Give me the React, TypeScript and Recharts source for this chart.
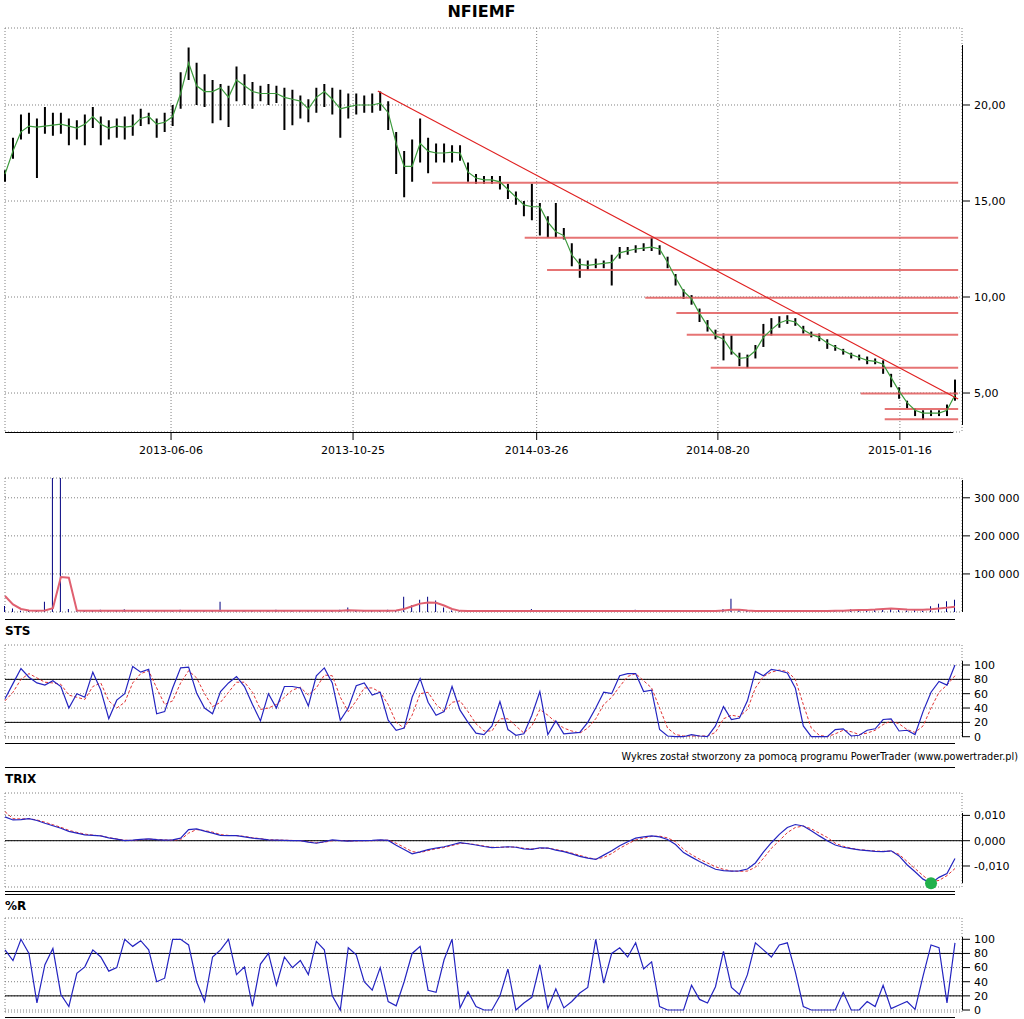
import { Bar, CartesianGrid, ComposedChart, Line, ReferenceDot, ReferenceLine, XAxis, YAxis } from 'recharts'

// time axis: one point per ~4 sessions, dates shown at fractional positions
const DATE_LABELS = ['2013-06-06', '2013-10-25', '2014-03-26', '2014-08-20', '2015-01-16']
const DATE_POS = [20.8, 43.6, 66.6, 89.3, 112.1]

const LOW = [
  16.0, 17.2, 18.2, 18.5, 16.2, 18.5, 18.4, 18.5, 17.9, 18.2,
  17.9, 18.8, 17.9, 18.2, 18.3, 18.2, 18.4, 18.9, 19.0, 18.3,
  18.6, 18.9, 19.8, 21.3, 20.0, 19.9, 19.05, 19.2, 18.85, 20.2,
  20.0, 19.8, 20.2, 20.0, 20.1, 18.7, 18.95, 19.3, 19.1, 19.6,
  19.9, 19.5, 18.3, 19.3, 19.5, 19.6, 19.6, 19.7, 18.7, 16.4,
  15.2, 16.0, 17.0, 16.45, 17.0, 17.0, 17.0, 17.1, 16.0, 15.9,
  15.9, 15.9, 15.6, 15.1, 14.8, 14.2, 14.0, 13.2, 13.1, 13.1,
  13.0, 11.6, 11.0, 11.4, 11.5, 11.5, 10.6, 12.0, 12.2, 12.3,
  12.4, 12.4, 12.2, 11.5, 10.6, 9.9, 9.6, 8.7, 8.2, 7.8,
  6.7, 7.0, 6.4, 6.3, 6.8, 7.4, 8.0, 8.4, 8.6, 8.5,
  8.1, 7.9, 7.7, 7.3, 7.2, 7.0, 6.8, 6.7, 6.5, 6.5,
  6.0, 5.3, 4.7, 4.2, 3.8, 3.6, 3.8, 3.8, 3.8, 4.6,
]
const HIGH = [
  16.6, 18.3, 19.5, 19.6, 19.3, 19.9, 19.6, 19.6, 19.3, 19.2,
  19.5, 19.9, 19.4, 19.2, 19.3, 19.4, 19.5, 19.8, 19.6, 19.3,
  19.6, 20.0, 21.7, 23.0, 22.2, 21.6, 21.3, 21.1, 21.0, 22.0,
  21.6, 21.2, 21.0, 21.1, 21.0, 20.9, 20.8, 20.5, 20.3, 20.9,
  21.1, 20.9, 20.8, 20.6, 20.6, 20.5, 20.6, 20.7, 20.2, 18.6,
  17.6, 18.2, 19.3, 18.3, 18.0, 18.0, 17.9, 17.9, 17.0, 16.4,
  16.3, 16.3, 16.3, 15.9, 15.5, 15.0, 15.9, 14.9, 14.2, 14.9,
  13.6, 12.8, 12.0, 11.9, 12.0, 11.9, 12.2, 12.6, 12.6, 12.7,
  12.8, 13.1, 12.7, 12.1, 11.2, 10.4, 10.1, 9.4, 8.8, 8.3,
  8.1, 8.0, 7.1, 7.0, 7.5, 8.6, 8.9, 9.0, 9.05, 8.9,
  8.5, 8.2, 8.1, 7.8, 7.5, 7.3, 7.1, 7.0, 6.9, 6.8,
  6.7, 6.0, 5.3, 4.6, 4.2, 4.1, 4.1, 4.1, 4.4, 5.7,
]
const MA = [
  16.4, 17.6, 18.6, 18.9, 18.85, 18.9, 18.95, 19.0, 18.9, 18.8,
  19.0, 19.4, 19.0, 18.8, 18.9, 18.85, 18.9, 19.3, 19.4, 19.0,
  19.1, 19.4, 20.6, 22.2, 21.0, 20.7, 20.7, 20.9, 20.4, 21.3,
  21.0, 20.7, 20.6, 20.6, 20.6, 20.4, 20.3, 20.2, 19.8, 20.4,
  20.7, 20.3, 19.8, 19.9, 20.0, 20.0, 20.0, 20.1, 19.6, 18.0,
  16.8, 16.8, 18.0, 17.6, 17.5, 17.5, 17.55, 17.5, 16.5, 16.2,
  16.1, 16.1, 16.0, 15.6, 15.2, 14.8, 14.7, 14.7, 13.9, 13.4,
  13.2, 12.2, 11.7, 11.65, 11.7, 11.75, 11.8, 12.3, 12.4, 12.5,
  12.55, 12.6, 12.5, 11.8, 11.0, 10.3, 9.9, 9.15, 8.5, 8.0,
  7.8, 7.2, 6.8, 6.85, 7.2, 7.9, 8.3, 8.65, 8.8, 8.7,
  8.3, 8.05, 7.9, 7.6, 7.4, 7.2, 7.0, 6.85, 6.7, 6.65,
  6.5, 5.8, 5.1, 4.5, 4.1, 3.95, 3.95, 3.95, 4.1, 4.9,
]

// drawn support levels and where they start on the time axis
const SUPPORT_LEVELS = [15.95, 13.08, 11.41, 9.96, 9.17, 8.03, 6.32, 4.98, 4.17, 3.64]
const SUPPORT_FROM = [53.5, 65.1, 67.9, 80.2, 84.1, 85.4, 88.4, 107.2, 110.2, 110.2]
const LINES_TO = 119.4
const TREND = [
  { x: 46.7, y: 20.73 },
  { x: 119.4, y: 4.69 },
]

const VOLUME = [
  16000, 9000, 3000, 4000, 3000, 27000, 420000, 420000, 8000, 2000,
  5000, 3000, 6000, 2000, 4000, 7000, 3000, 2000, 5000, 3000,
  2000, 4000, 6000, 3000, 2000, 3000, 5000, 27000, 4000, 2000,
  3000, 5000, 2000, 3000, 6000, 2000, 4000, 3000, 5000, 2000,
  3000, 4000, 6000, 12000, 3000, 2000, 4000, 3000, 6000, 5000,
  40000, 18000, 32000, 40000, 30000, 12000, 4000, 2000, 3000, 2000,
  4000, 3000, 2000, 3000, 2000, 5000, 8000, 3000, 2000, 4000,
  3000, 2000, 3000, 5000, 2000, 3000, 4000, 2000, 3000, 6000,
  4000, 2000, 3000, 5000, 3000, 2000, 4000, 3000, 2000, 5000,
  8000, 35000, 6000, 4000, 3000, 5000, 4000, 3000, 2000, 3000,
  2000, 4000, 3000, 2000, 3000, 5000, 7000, 4000, 4000, 6000,
  8000, 10000, 6000, 4000, 5000, 3000, 15000, 22000, 28000, 32000,
]
const VOLUME_MA = [
  42000, 20000, 8000, 4000, 3500, 4000, 10000, 92000, 90000, 4000,
  3000, 3000, 3000, 3000, 3000, 3000, 3000, 3000, 3000, 3000,
  3000, 3000, 3000, 3000, 3000, 3000, 3000, 3200, 3200, 3000,
  3000, 3000, 3000, 3000, 3000, 3000, 3000, 3000, 3000, 3000,
  3000, 3000, 3500, 4500, 4000, 3000, 3000, 3000, 3500, 4000,
  8000, 15000, 22000, 25000, 24000, 17000, 8000, 3000, 2500, 2500,
  2500, 2500, 2500, 2500, 2500, 2500, 2800, 2800, 2500, 2500,
  2500, 2500, 2500, 2500, 2500, 2500, 2500, 2500, 2500, 2500,
  2500, 2500, 2500, 2500, 2500, 2500, 2500, 2500, 2500, 2500,
  4000, 6000, 6000, 4000, 2500, 2500, 2500, 2500, 2500, 2500,
  2500, 2500, 2500, 2500, 3000, 3500, 4500, 5000, 5500, 6500,
  8000, 9000, 8000, 6500, 6000, 6000, 7500, 9500, 11500, 13500,
]

const STS_K = [
  53, 74, 95, 83, 75, 72, 78, 70, 40, 60,
  55, 90, 65, 25, 51, 60, 98, 90, 94, 32,
  35, 68, 96, 97, 61, 40, 32, 63, 75, 84,
  70, 45, 22, 60, 40, 70, 70, 68, 43, 85,
  96, 75, 23, 40, 71, 75, 58, 62, 23, 9,
  12, 55, 81, 48, 30, 35, 70, 37, 20, 5,
  3, 15, 49, 10, 2, 4, 30, 63, 3, 22,
  4, 5, 6, 20, 40, 62, 60, 85, 88, 88,
  63, 65, 10, 1, 0, 0, 3, 1, 0, 15,
  42, 24, 26, 50, 91, 85, 94, 92, 89, 68,
  15, 0, 0, 0, 10, 11, 1, 2, 9, 11,
  24, 25, 8, 9, 3, 35, 62, 77, 72, 100,
]
const STS_D = [
  50, 62, 80, 88, 82, 76, 75, 73, 58, 55,
  52, 70, 75, 50, 40, 48, 75, 88, 92, 68,
  45, 50, 75, 92, 82, 60, 42, 48, 62, 76,
  76, 62, 38, 40, 45, 55, 65, 69, 58, 68,
  86, 85, 55, 35, 50, 68, 68, 62, 45, 20,
  12, 30, 60, 62, 45, 35, 48, 50, 35, 18,
  8, 8, 25, 25, 15, 5, 15, 38, 30, 20,
  12, 8, 5, 12, 25, 45, 55, 70, 84, 88,
  78, 68, 40, 12, 3, 1, 1, 1, 1, 6,
  25, 30, 28, 38, 68, 84, 90, 93, 91, 80,
  45, 12, 2, 0, 4, 9, 7, 3, 5, 9,
  17, 22, 18, 10, 6, 15, 40, 62, 72, 85,
]

const TRIX = [
  0.0094, 0.0082, 0.0083, 0.0087, 0.008, 0.0069, 0.0059, 0.0049, 0.0037, 0.003,
  0.0023, 0.0021, 0.0019, 0.0011, 0.0006, 0.0, 0.0002, 0.0005, 0.0007, 0.0004,
  0.0002, 0.0003, 0.001, 0.0044, 0.0047, 0.0038, 0.003, 0.0021, 0.002, 0.002,
  0.0015, 0.001, 0.0007, 0.0003, 0.0002, 0.0001, 0.0, 0.0, -0.0006, -0.001,
  -0.0004, 0.0003, 0.0, -0.0002, 0.0, 0.0, 0.0001, 0.0003, 0.0001, -0.0018,
  -0.0035, -0.0052, -0.0044, -0.0035, -0.0029, -0.0024, -0.0016, -0.0008, -0.0012, -0.0017,
  -0.0023, -0.0027, -0.0026, -0.0024, -0.0026, -0.0032, -0.0034, -0.0028, -0.0029, -0.0037,
  -0.0043, -0.0052, -0.0062, -0.0069, -0.0074, -0.0057, -0.004, -0.002, -0.0004, 0.001,
  0.0015, 0.0019, 0.0015, 0.0005, -0.0015, -0.0047, -0.0065, -0.0082, -0.0098, -0.0113,
  -0.0118, -0.012, -0.0119, -0.0112, -0.0088, -0.0045, -0.0008, 0.0025, 0.0052, 0.0064,
  0.0058, 0.0039, 0.0019, 0.0, -0.0017, -0.0026, -0.0031, -0.0036, -0.0039, -0.0042,
  -0.0043, -0.004, -0.006, -0.0095, -0.0123, -0.0152, -0.0168, -0.0145, -0.013, -0.007,
]
const TRIX_SIGNAL = [
  0.0115, 0.0087, 0.0086, 0.0087, 0.0082, 0.0073, 0.0063, 0.0053, 0.0041, 0.0033,
  0.0026, 0.0022, 0.0019, 0.0012, 0.0007, 0.0002, 0.0001, 0.0004, 0.0006, 0.0005,
  0.0003, 0.0002, 0.0004, 0.003, 0.0044, 0.004, 0.0034, 0.0024, 0.0021, 0.002,
  0.0017, 0.0012, 0.0008, 0.0004, 0.0003, 0.0002, 0.0001, 0.0, -0.0004, -0.0008,
  -0.0006, 0.0, 0.0001, -0.0001, -0.0001, 0.0, 0.0, 0.0002, 0.0002, -0.001,
  -0.0026, -0.0043, -0.0047, -0.0039, -0.0032, -0.0027, -0.0019, -0.0011, -0.0011, -0.0016,
  -0.0021, -0.0026, -0.0026, -0.0025, -0.0025, -0.003, -0.0033, -0.003, -0.0029, -0.0035,
  -0.0041, -0.0049, -0.0058, -0.0067, -0.0073, -0.0066, -0.0051, -0.003, -0.0013, 0.0003,
  0.001, 0.0017, 0.0018, 0.0011, -0.0004, -0.0034, -0.0055, -0.0073, -0.0088, -0.0103,
  -0.0113, -0.012, -0.0121, -0.012, -0.0105, -0.007, -0.003, 0.0, 0.0032, 0.0052,
  0.0058, 0.0047, 0.003, 0.0013, -0.001, -0.0022, -0.003, -0.0035, -0.0038, -0.0041,
  -0.0042, -0.0041, -0.0054, -0.0082, -0.011, -0.0138, -0.0162, -0.0157, -0.0138, -0.011,
]
const TRIX_SIGNAL_AT = 116

const WILLIAMS_R = [
  85, 70, 100, 80, 10, 64, 87, 22, 5, 52,
  61, 85, 75, 55, 60, 100, 90, 98, 85, 40,
  45, 100, 100, 92, 40, 12, 75, 85, 100, 50,
  61, 5, 65, 80, 35, 75, 60, 70, 50, 97,
  85, 20, 0, 88, 78, 40, 28, 60, 12, 6,
  40, 80, 90, 28, 25, 71, 100, 3, 26, 5,
  0, 0, 20, 58, 0, 10, 18, 64, 2, 30,
  3, 12, 24, 32, 100, 38, 80, 88, 75, 95,
  58, 68, 5, 0, 0, 0, 35, 15, 10, 33,
  83, 32, 22, 50, 95, 85, 75, 92, 95, 54,
  5, 0, 0, 0, 0, 25, 0, 0, 12, 5,
  35, 2, 7, 12, 1, 48, 92, 88, 10, 95,
]

const PRICE_TICKS = [5, 10, 15, 20]
const VOLUME_TICKS = [100000, 200000, 300000]
const OSC_TICKS = [0, 20, 40, 60, 80, 100]
const TRIX_TICKS = [-0.01, 0, 0.01]

const rows = MA.map((ma, i) => ({
  i,
  ma,
  range: [LOW[i], HIGH[i]],
  vol: VOLUME[i],
  volMa: VOLUME_MA[i],
  k: STS_K[i],
  d: STS_D[i],
  trix: TRIX[i],
  trixSig: TRIX_SIGNAL[i],
  wr: WILLIAMS_R[i],
}))

const FONT = '"DejaVu Sans", Verdana, sans-serif'
const W = 1024
const X_MAX = 119.88
const MARGIN = { top: 0, right: 0, bottom: 10, left: 5 }
const tickStyle = { fill: '#000', fontSize: 11, fontFamily: FONT }
const BLUE = '#2424c0'
const RED = '#e03434'

const fmtPrice = (v: number) => v.toFixed(2).replace('.', ',')
const fmtVolume = (v: number) => String(v).replace(/\B(?=(\d{3})+(?!\d))/g, ' ')
const fmtTrix = (v: number) => (v < 0 ? '-' : '') + Math.abs(v).toFixed(3).replace('.', ',')
const fmtDate = (v: number) => DATE_LABELS[DATE_POS.indexOf(v)] ?? ''

function HiddenTime() {
  return (
    <XAxis
      type="number"
      dataKey="i"
      domain={[0, X_MAX]}
      ticks={DATE_POS}
      interval={0}
      height={0}
      tick={false}
      tickLine={false}
      axisLine={false}
    />
  )
}

function RightAxis({ domain, ticks, fmt }: { domain: number[]; ticks: number[]; fmt: (v: number) => string }) {
  return (
    <YAxis
      orientation="right"
      width={62}
      domain={domain}
      ticks={ticks}
      interval={0}
      allowDataOverflow
      axisLine={false}
      tickSize={8}
      tickMargin={4}
      tickLine={{ stroke: '#000' }}
      tick={tickStyle}
      tickFormatter={fmt}
    />
  )
}

const grid = <CartesianGrid stroke="#808080" strokeDasharray="1 2" />

function HLine({ top, left = 5, width = 950 }: { top: number; left?: number; width?: number }) {
  return <div style={{ position: 'absolute', top, left, width, height: 1, background: '#000' }} />
}

function VLine({ top, bottom }: { top: number; bottom: number }) {
  return <div style={{ position: 'absolute', top, left: 962, width: 1, height: bottom - top, background: '#000' }} />
}

function Label({ top, text }: { top: number; text: string }) {
  return (
    <div style={{ position: 'absolute', top, left: 5, fontSize: 12, fontWeight: 'bold', fontFamily: FONT, lineHeight: '14px' }}>
      {text}
    </div>
  )
}

function Panel({ top, children }: { top: number; children: React.ReactNode }) {
  return <div style={{ position: 'absolute', top, left: 0 }}>{children}</div>
}

export default function App() {
  return (
    <div style={{ position: 'absolute', left: 0, top: 0, width: W, height: 1019, background: '#fff', fontFamily: FONT, overflow: 'hidden' }}>
      <div style={{ position: 'absolute', top: 2, left: 0, width: 963, textAlign: 'center', fontSize: 16, fontWeight: 'bold', lineHeight: '20px' }}>
        NFIEMF
      </div>

      <Panel top={0}>
        <ComposedChart width={W} height={462} data={rows} margin={{ ...MARGIN, top: 28, bottom: 0 }}>
          {grid}
          <XAxis
            type="number"
            dataKey="i"
            domain={[0, X_MAX]}
            ticks={DATE_POS}
            interval={0}
            height={30}
            axisLine={false}
            tickSize={8}
            tickMargin={6}
            tickLine={{ stroke: '#000' }}
            tick={tickStyle}
            tickFormatter={fmtDate}
          />
          <RightAxis domain={[2.97, 24.01]} ticks={PRICE_TICKS} fmt={fmtPrice} />
          {SUPPORT_LEVELS.map((lvl, k) => (
            <ReferenceLine
              key={k}
              segment={[{ x: SUPPORT_FROM[k], y: lvl }, { x: LINES_TO, y: lvl }]}
              stroke="#e25c5c"
              strokeOpacity={0.85}
              strokeWidth={2}
              ifOverflow="visible"
            />
          ))}
          <Bar dataKey="range" barSize={2} fill="#000" isAnimationActive={false} />
          <Line dataKey="ma" stroke="#3c9a3c" strokeWidth={1.2} dot={false} isAnimationActive={false} />
          <ReferenceLine segment={TREND} stroke="#e02020" strokeWidth={1.2} ifOverflow="visible" />
        </ComposedChart>
      </Panel>
      <HLine top={432} width={948} />
      <VLine top={45} bottom={425} />

      <Panel top={470}>
        <ComposedChart width={W} height={152} data={rows} margin={{ ...MARGIN, top: 8 }}>
          {grid}
          <HiddenTime />
          <RightAxis domain={[0, 352000]} ticks={VOLUME_TICKS} fmt={fmtVolume} />
          <Bar dataKey="vol" barSize={1} fill="#000080" isAnimationActive={false} />
          <Line dataKey="volMa" stroke="#e06070" strokeWidth={2} dot={false} isAnimationActive={false} />
        </ComposedChart>
      </Panel>
      <HLine top={619} />
      <VLine top={480} bottom={612} />

      <Label top={624} text="STS" />
      <Panel top={630}>
        <ComposedChart width={W} height={118} data={rows} margin={{ ...MARGIN, top: 15 }}>
          {grid}
          <HiddenTime />
          <RightAxis domain={[-1.8, 127.9]} ticks={OSC_TICKS} fmt={(v) => String(v)} />
          <ReferenceLine y={20} stroke="#000" />
          <ReferenceLine y={80} stroke="#000" />
          <Line dataKey="d" stroke={RED} strokeDasharray="3 2" strokeWidth={1} dot={false} isAnimationActive={false} />
          <Line dataKey="k" stroke={BLUE} strokeWidth={1.2} dot={false} isAnimationActive={false} />
        </ComposedChart>
      </Panel>
      <HLine top={743} />
      <VLine top={661} bottom={737} />
      <div style={{ position: 'absolute', top: 750, right: 6, fontSize: 9.7, lineHeight: '13px', whiteSpace: 'nowrap' }}>
        Wykres został stworzony za pomocą programu PowerTrader (www.powertrader.pl)
      </div>
      <HLine top={767} />

      <Label top={772} text="TRIX" />
      <Panel top={780}>
        <ComposedChart width={W} height={117} data={rows} margin={{ ...MARGIN, top: 13 }}>
          {grid}
          <HiddenTime />
          <RightAxis domain={[-0.0183, 0.01885]} ticks={TRIX_TICKS} fmt={fmtTrix} />
          <ReferenceLine y={0} stroke="#000" />
          <Line dataKey="trixSig" stroke={RED} strokeDasharray="3 2" strokeWidth={1} dot={false} isAnimationActive={false} />
          <Line dataKey="trix" stroke={BLUE} strokeWidth={1.2} dot={false} isAnimationActive={false} />
          <ReferenceDot x={TRIX_SIGNAL_AT} y={TRIX[TRIX_SIGNAL_AT]} r={6} fill="#22b04a" stroke="none" ifOverflow="visible" />
        </ComposedChart>
      </Panel>
      <HLine top={891} />
      <HLine top={894} />
      <VLine top={813} bottom={883} />

      <Label top={899} text="%R" />
      <Panel top={905}>
        <ComposedChart width={W} height={117} data={rows} margin={{ ...MARGIN, top: 13 }}>
          {grid}
          <HiddenTime />
          <RightAxis domain={[-2.8, 130.1]} ticks={OSC_TICKS} fmt={(v) => String(v)} />
          <ReferenceLine y={20} stroke="#000" />
          <ReferenceLine y={80} stroke="#000" />
          <Line dataKey="wr" stroke={BLUE} strokeWidth={1.2} dot={false} isAnimationActive={false} />
        </ComposedChart>
      </Panel>
      <HLine top={1017} />
      <VLine top={937} bottom={1010} />
    </div>
  )
}
